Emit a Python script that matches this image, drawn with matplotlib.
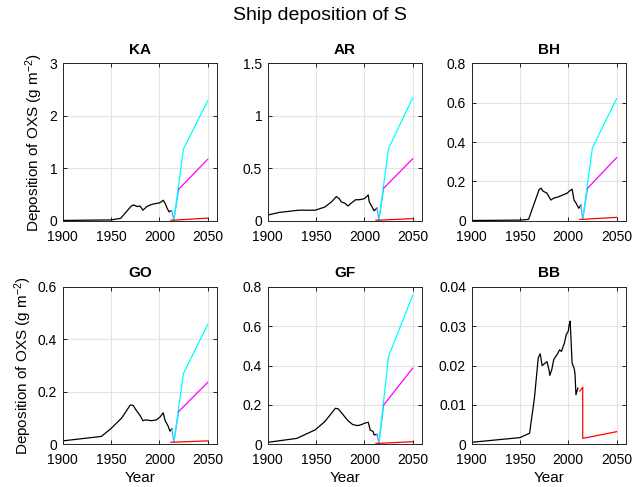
import matplotlib
matplotlib.use("Agg")
import matplotlib.pyplot as plt
from matplotlib.ticker import FuncFormatter

plt.rcParams['font.family'] = ['Liberation Sans', 'DejaVu Sans']
plt.rcParams['mathtext.fontset'] = 'custom'
plt.rcParams['mathtext.rm'] = 'Liberation Sans'
plt.rcParams['mathtext.default'] = 'regular'

panels = ["KA", "AR", "BH", "GO", "GF", "BB"]
ylims = [3, 1.5, 0.8, 0.6, 0.8, 0.04]
ysteps = [1, 0.5, 0.2, 0.2, 0.2, 0.01]

# Historical (black) series
ka_years = [1900, 1950, 1960, 1971, 1973.5, 1977, 1980, 1983, 1987, 1992, 1997, 2000, 2002, 2004, 2006, 2008, 2010, 2012]
ka_vals = [0.005, 0.015, 0.045, 0.28, 0.30, 0.27, 0.28, 0.20, 0.27, 0.31, 0.33, 0.34, 0.36, 0.39, 0.33, 0.24, 0.17, 0.19]

ar_years = [1900, 1912, 1932, 1949, 1959, 1966, 1971, 1974, 1976, 1980, 1983, 1986, 1991, 1995, 2000, 2004, 2005, 2008, 2010, 2013]
ar_vals = [0.054, 0.079, 0.10, 0.10, 0.13, 0.18, 0.23, 0.21, 0.18, 0.165, 0.14, 0.165, 0.20, 0.20, 0.21, 0.245, 0.18, 0.13, 0.095, 0.12]

bh_years = [1900, 1950, 1959, 1970, 1972, 1974, 1978, 1982, 1985, 1989, 1994, 1999, 2001, 2004, 2006, 2008, 2011, 2013]
bh_vals = [0.001, 0.003, 0.007, 0.16, 0.165, 0.15, 0.14, 0.105, 0.115, 0.12, 0.13, 0.14, 0.15, 0.16, 0.105, 0.09, 0.063, 0.08]

go_years = [1900, 1940, 1950, 1961, 1970, 1973, 1976, 1980, 1983, 1986, 1992, 1997, 2001, 2004, 2006, 2009, 2011, 2013]
go_vals = [0.013, 0.03, 0.06, 0.10, 0.15, 0.148, 0.13, 0.11, 0.09, 0.093, 0.09, 0.093, 0.105, 0.12, 0.09, 0.07, 0.05, 0.06]

gf_years = [1900, 1930, 1949, 1959, 1970, 1973, 1978, 1983, 1988, 1993, 1997, 2000, 2004, 2006, 2009, 2010, 2013]
gf_vals = [0.01, 0.03, 0.073, 0.115, 0.183, 0.18, 0.15, 0.12, 0.10, 0.095, 0.10, 0.107, 0.112, 0.073, 0.065, 0.048, 0.05]

bb_years = [1900, 1950, 1960, 1965, 1969, 1971, 1973, 1976, 1978, 1980, 1981, 1983, 1985, 1987, 1989, 1991, 1993, 1996, 1998, 2000, 2001, 2002, 2004, 2006, 2007, 2008, 2010]
bb_vals = [0.0005, 0.0017, 0.0028, 0.0117, 0.022, 0.023, 0.020, 0.0206, 0.021, 0.019, 0.0175, 0.019, 0.0215, 0.0223, 0.023, 0.024, 0.0236, 0.0257, 0.0279, 0.0287, 0.0304, 0.0313, 0.0206, 0.0194, 0.018, 0.0126, 0.0143]

hist_years = [ka_years, ar_years, bh_years, go_years, gf_years, bb_years]
hist_vals = [ka_vals, ar_vals, bh_vals, go_vals, gf_vals, bb_vals]

# Scenario series
blue_years = [2013, 2015, 2020]
blue_vals = [[0.19, 0.01, 0.60], [0.12, 0.005, 0.31], [0.08, 0.007, 0.165],
             [0.06, 0.008, 0.125], [0.05, 0.005, 0.20], None]

cyan_years = [2015, 2025, 2050]
cyan_vals = [[0.01, 1.37, 2.28], [0.005, 0.69, 1.17], [0.007, 0.37, 0.62],
             [0.008, 0.27, 0.456], [0.005, 0.447, 0.757], None]

mag_years = [2020, 2050]
mag_vals = [[0.60, 1.17], [0.31, 0.59], [0.165, 0.32],
            [0.125, 0.236], [0.20, 0.387], None]

red_years = [2012, 2015, 2015, 2050]
red_vals = [[0.01, 0.01, 0.01, 0.05], [0.005, 0.005, 0.005, 0.02], [0.007, 0.007, 0.007, 0.017],
            [0.008, 0.008, 0.008, 0.013], [0.005, 0.005, 0.005, 0.013], [0.0135, 0.0145, 0.0015, 0.0032]]

xticks = [1900, 1950, 2000, 2050]

fig = plt.figure(figsize=(6.39, 4.87), dpi=100)
lefts = [0.0981, 0.419, 0.738]
bottoms = [0.5468, 0.0877]
w, h = 0.242, 0.3232

fmt = FuncFormatter(lambda v, p: "%g" % round(v, 6))

for i, name in enumerate(panels):
    r, c = divmod(i, 3)
    ax = fig.add_axes([lefts[c], bottoms[r], w, h])
    ax.plot(hist_years[i], hist_vals[i], color='k', lw=0.9)
    if blue_vals[i] is not None:
        ax.plot(blue_years, blue_vals[i], color=(0.35, 0.6, 1.0), lw=0.9)
        ax.plot(cyan_years, cyan_vals[i], color=(0, 1, 1), lw=0.9)
        ax.plot(mag_years, mag_vals[i], color=(1, 0, 1), lw=0.9)
    ax.plot(red_years, red_vals[i], color=(1, 0, 0), lw=0.9)
    ax.set_xlim(1900, 2060)
    ax.set_ylim(0, ylims[i])
    n = int(round(ylims[i] / ysteps[i]))
    ax.set_yticks([k * ysteps[i] for k in range(n + 1)])
    ax.set_xticks(xticks)
    ax.yaxis.set_major_formatter(fmt)
    ax.grid(True, color='#e3e3e3', lw=0.8)
    ax.set_axisbelow(True)
    ax.tick_params(direction='in', top=True, right=True, labelsize=10, length=3, width=0.6)
    ax.tick_params(axis='x', pad=6.5)
    ax.tick_params(axis='y', pad=4)
    for s in ax.spines.values():
        s.set_linewidth(0.7)
        s.set_color('#262626')
    ax.set_title(name, fontsize=11, fontweight='bold', pad=7)
    if c == 0:
        ax.set_ylabel('Deposition of OXS (g m$^{-2}$)', fontsize=11, labelpad=3)
    if r == 1:
        ax.set_xlabel('Year', fontsize=11, labelpad=3)

fig.suptitle('Ship deposition of S', fontsize=14, y=0.985)
fig.savefig('out.png', dpi=100)
